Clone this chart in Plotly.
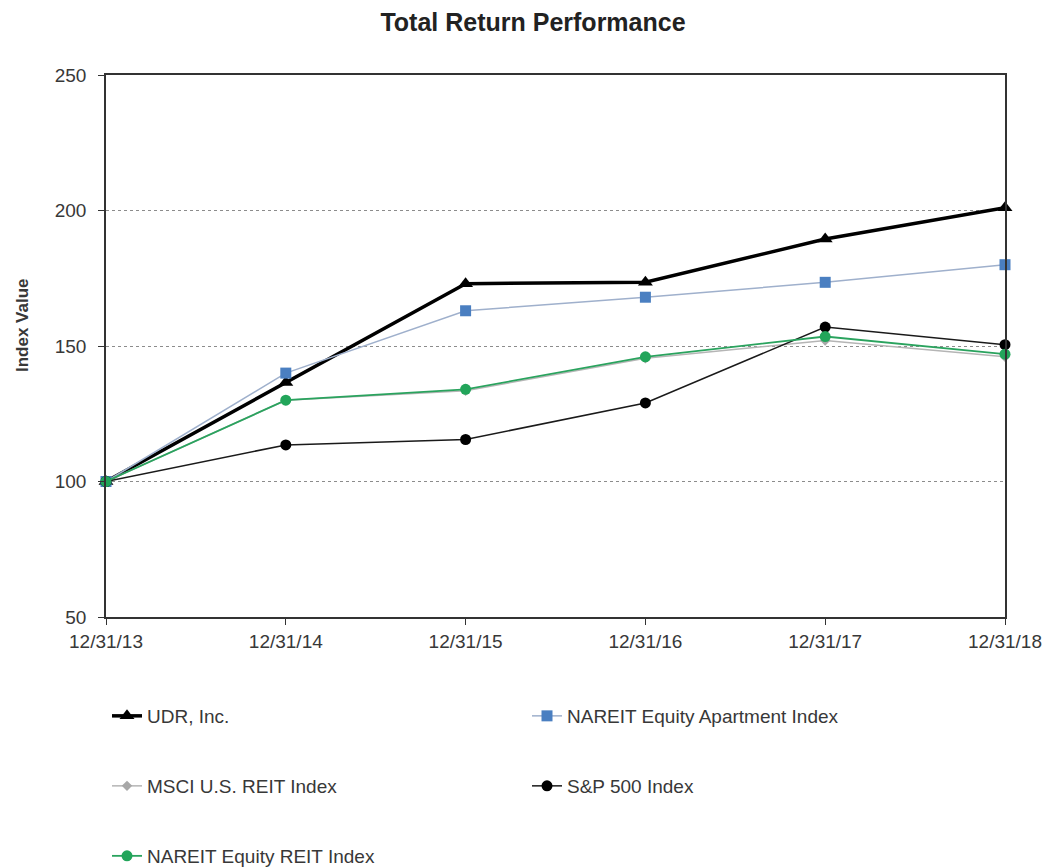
import plotly.graph_objects as go

dates = ["12/31/13", "12/31/14", "12/31/15", "12/31/16", "12/31/17", "12/31/18"]
udr = [100, 136.5, 173, 173.5, 189.5, 201]
nareit_apt = [100, 140, 163, 168, 173.5, 180]
msci_reit = [100, 130, 133.5, 145.5, 152, 146]
sp500 = [100, 113.5, 115.5, 129, 157, 150.5]
nareit_eq = [100, 130, 134, 146, 153.5, 147]

y_ticks = [50, 100, 150, 200, 250]

FONT = "Liberation Sans, Arial, sans-serif"
TXT = "#383838"

fig = go.Figure()

def add(name, vals, line, marker, legend):
    fig.add_trace(go.Scatter(
        x=list(range(len(dates))), y=vals, name=name, mode="lines+markers",
        line=line, marker=marker, cliponaxis=False, legend=legend, showlegend=True,
    ))

add("UDR, Inc.", udr, dict(color="#000000", width=3.5),
    dict(symbol="triangle-up", size=13, color="#000000"), "legend")
add("NAREIT Equity Apartment Index", nareit_apt, dict(color="#9fb0cc", width=1.5),
    dict(symbol="square", size=11, color="#4a7fc1"), "legend2")
add("MSCI U.S. REIT Index", msci_reit, dict(color="#b5b5b5", width=1.5),
    dict(symbol="diamond", size=8, color="#a8a8a8"), "legend3")
add("S&P 500 Index", sp500, dict(color="#1a1a1a", width=1.5),
    dict(symbol="circle", size=11, color="#000000"), "legend4")
add("NAREIT Equity REIT Index", nareit_eq, dict(color="#2aa35e", width=1.8),
    dict(symbol="circle", size=11, color="#22a55a"), "legend5")

W, H = 1046, 867
L, R, T, B = 106, 41, 75, 250
pw, ph = W - L - R, H - T - B

def lx(px):
    return (px - L) / pw

def ly(py):
    return (H - B - py) / ph

leg_common = dict(bgcolor="rgba(0,0,0,0)", font=dict(family=FONT, size=19, color=TXT),
                  xanchor="left", yanchor="middle", itemwidth=30)

fig.update_layout(
    width=W, height=H,
    margin=dict(l=L, r=R, t=T, b=B, autoexpand=False),
    paper_bgcolor="white", plot_bgcolor="white",
    font=dict(family=FONT, size=19, color=TXT),
    title=dict(text="<b>Total Return Performance</b>", x=533 / W, xanchor="center",
               y=1 - 22 / H, yanchor="middle",
               font=dict(size=25, color="#222222")),
    legend=dict(x=lx(107), y=ly(716), **leg_common),
    legend2=dict(x=lx(527), y=ly(716), **leg_common),
    legend3=dict(x=lx(107), y=ly(786), **leg_common),
    legend4=dict(x=lx(527), y=ly(786), **leg_common),
    legend5=dict(x=lx(107), y=ly(856), **leg_common),
    xaxis=dict(
        range=[0, len(dates) - 1], tickmode="array",
        tickvals=list(range(len(dates))), ticktext=dates,
        showline=True, linecolor="#333333", linewidth=1.5, mirror=True,
        ticks="outside", ticklen=6, tickcolor="#333333",
        showgrid=False, zeroline=False,
        tickfont=dict(size=19, color=TXT),
    ),
    yaxis=dict(
        range=[50, 250], tickmode="array", tickvals=y_ticks,
        showline=True, linecolor="#333333", linewidth=1.5, mirror=True,
        ticks="outside", ticklen=6, tickcolor="#333333", ticklabelstandoff=8,
        showgrid=True, gridcolor="#8c8c8c", griddash="dot", gridwidth=1,
        zeroline=False,
        tickfont=dict(size=19, color=TXT),
    ),
    annotations=[dict(
        text="<b>Index Value</b>", xref="paper", yref="paper",
        x=lx(22), y=ly(325), xanchor="center", yanchor="middle",
        textangle=-90, showarrow=False, font=dict(family=FONT, size=17, color=TXT),
    )],
)

fig.write_html("out.html", config={"displayModeBar": False},
               post_script="document.body.style.margin='0';document.body.style.overflow='hidden';")
